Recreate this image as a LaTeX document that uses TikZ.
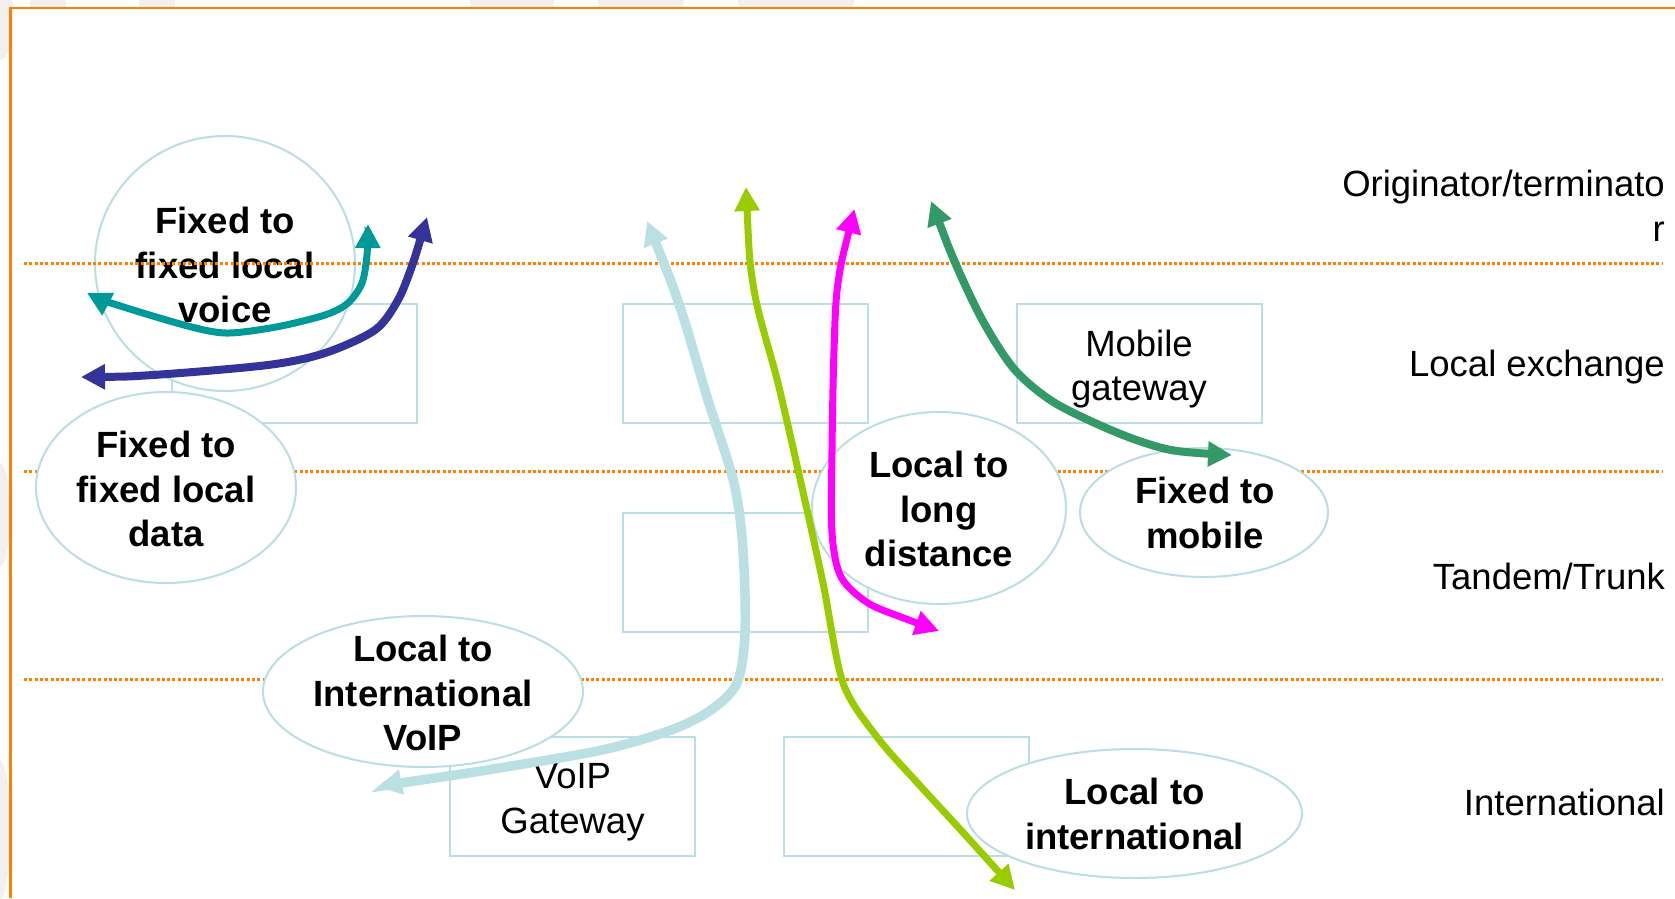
\documentclass[tikz,border=0pt]{standalone}
\usepackage{fontspec}
\setmainfont{Liberation Sans}
\usetikzlibrary{arrows.meta,shapes.geometric}

\definecolor{frameorange}{HTML}{FF8000}
\definecolor{boxblue}{HTML}{B9DEE3}
\definecolor{faintgray}{HTML}{F1F0EE}
\definecolor{arrteal}{HTML}{009999}
\definecolor{arrnavy}{HTML}{333399}
\definecolor{arrpale}{HTML}{BBE0E3}
\definecolor{arrlime}{HTML}{99CC00}
\definecolor{arrpink}{HTML}{FF00FF}
\definecolor{arrgreen}{HTML}{339966}

\begin{document}
\begin{tikzpicture}[x=1pt,y=-1pt,
  txt/.style={font=\fontsize{36.5}{44.5}\selectfont, align=center, inner sep=0pt},
  boldtxt/.style={txt, font=\fontsize{36.5}{44.5}\selectfont\bfseries},
  layer/.style={txt, align=right, anchor=east},
  box/.style={draw=boxblue, line width=2pt, rectangle, inner sep=0pt,
              minimum width=245pt, minimum height=119pt},
  bubble/.style={draw=boxblue, line width=2pt, fill=white, ellipse, inner sep=0pt},
  divider/.style={draw=frameorange, line width=3pt, dash pattern=on 3pt off 2.3pt},
  route/.style={line width=7pt, {Triangle[length=24pt,width=24pt]}-{Triangle[length=24pt,width=24pt]}},
]
\useasboundingbox (0,0) rectangle (1675,898);
\fill[white] (0,0) rectangle (1675,898);

% faint slide background showing outside the frame
\begin{scope}
  \clip (0,0) rectangle (1675,7) (0,0) rectangle (10,898);
  \fill[faintgray] (48,10) ellipse [x radius=18, y radius=40];
  \fill[faintgray] (157,0) ellipse [x radius=18, y radius=30];
  \fill[faintgray] (512,0) ellipse [x radius=42, y radius=30];
  \fill[faintgray] (641,0) ellipse [x radius=43, y radius=30];
  \fill[faintgray] (796,0) ellipse [x radius=58, y radius=30];
  \fill[faintgray] (0,515) ellipse [x radius=10, y radius=52];
  \fill[faintgray] (0,830) ellipse [x radius=10, y radius=70];
  \fill[faintgray] (0,20) ellipse [x radius=14, y radius=40];
\end{scope}

% frame
\draw[frameorange, line width=2.6pt] (10.5,898) -- (10.5,8) -- (1675,8);

% exchange boxes
\node[box] (lex1) at (294,363.5) {};
\node[box] (lex2) at (745.5,363.5) {};
\node[box] (mgw) at (1139,363.5) {};
\node[txt] (mgwlabel) at (1139,369) {Mobile\\gateway};
\node[box] (tdm) at (745.5,572.5) {};
\node[box] (vgw) at (572.5,796.5) {};
\node[txt] (vgwlabel) at (572.5,802) {VoIP\\Gateway};
\node[box] (intl) at (906.5,796.5) {};

% fixed to fixed local voice
\node[bubble, minimum width=260pt, minimum height=255pt] (e1) at (225,263.5) {};
\node[boldtxt] (t1) at (225,265) {Fixed to\\fixed local\\voice};

% layer dividers
\coordinate (d1a) at (24,263);   \coordinate (d1b) at (1663,263);
\coordinate (d2a) at (24,471);   \coordinate (d2b) at (1663,471);
\coordinate (d3a) at (24,679);   \coordinate (d3b) at (1663,679);
\draw[divider] (d1a) -- (d1b);
\draw[divider] (d2a) -- (d2b);
\draw[divider] (d3a) -- (d3b);

% call types
\node[bubble, minimum width=260pt, minimum height=191pt] (e2) at (166,487.5) {};
\node[boldtxt] (t2) at (166,489) {Fixed to\\fixed local\\data};
\node[bubble, minimum width=254pt, minimum height=192pt] (e3) at (939,508) {};
\node[boldtxt] (t3) at (939,509) {Local to\\long\\distance};
\node[bubble, minimum width=248pt, minimum height=129pt] (e4) at (1204,512.5) {};
\node[boldtxt] (t4) at (1205,513) {Fixed to\\mobile};
\node[bubble, minimum width=320pt, minimum height=151pt] (e5) at (423,691.5) {};
\node[boldtxt] (t5) at (423,693) {Local to\\International\\VoIP};
\node[bubble, minimum width=335pt, minimum height=129pt] (e6) at (1134.5,813.5) {};
\node[boldtxt] (t6) at (1134.5,814) {Local to\\international};

% layer names
\node[layer] (lorig) at (1665,206) {Originator/terminato\\r};
\node[layer] (llex) at (1665,367) {Local exchange};
\node[layer] (ltdm) at (1665,576) {Tandem/Trunk};
\node[layer] (lint) at (1665,802) {International};

% route ends
\coordinate (tealA) at (87,293);    \coordinate (tealB) at (368,224);
\coordinate (navyA) at (81,377);    \coordinate (navyB) at (427,217);
\coordinate (paleA) at (647,221);   \coordinate (paleB) at (378,787);
\coordinate (limeA) at (746,187);   \coordinate (limeB) at (1015,890);
\coordinate (pinkA) at (854.5,209); \coordinate (pinkB) at (939,631);
\coordinate (greenA) at (931,201);  \coordinate (greenB) at (1232,455);

% routes
\draw[route, arrteal] plot[smooth] coordinates {(tealA) (111,303) (184,325) (226,333) (276,327) (325,315) (348,303) (362,283) (367,255) (tealB)};
\draw[route, arrnavy, line width=8pt] plot[smooth] coordinates {(navyA) (153,375) (268,365) (325,353) (375,330) (398,300) (413,263) (navyB)};
\draw[route, arrpale, line width=9.5pt] plot[smooth] coordinates {(paleA) (680,307) (707,397) (734,483) (743,550) (745,633) (737,683) (711,710) (671,730) (602,750) (487,770) (401,783) (paleB)};
\draw[route, arrlime] plot[smooth] coordinates {(limeA) (754,290) (778,383) (801,483) (823,583) (843,683) (877,737) (917.6,783) (963.5,833) (limeB)};
\draw[route, arrpink] plot[smooth] coordinates {(pinkA) (838,283) (834,350) (832,450) (832,533) (841,577) (868,603) (903.6,618) (pinkB)};
\draw[route, arrgreen, line width=8pt] plot[smooth] coordinates {(greenA) (957,267) (984,323) (1015,370) (1055,403) (1118,433) (1171,450) (greenB)};
\end{tikzpicture}
\end{document}
